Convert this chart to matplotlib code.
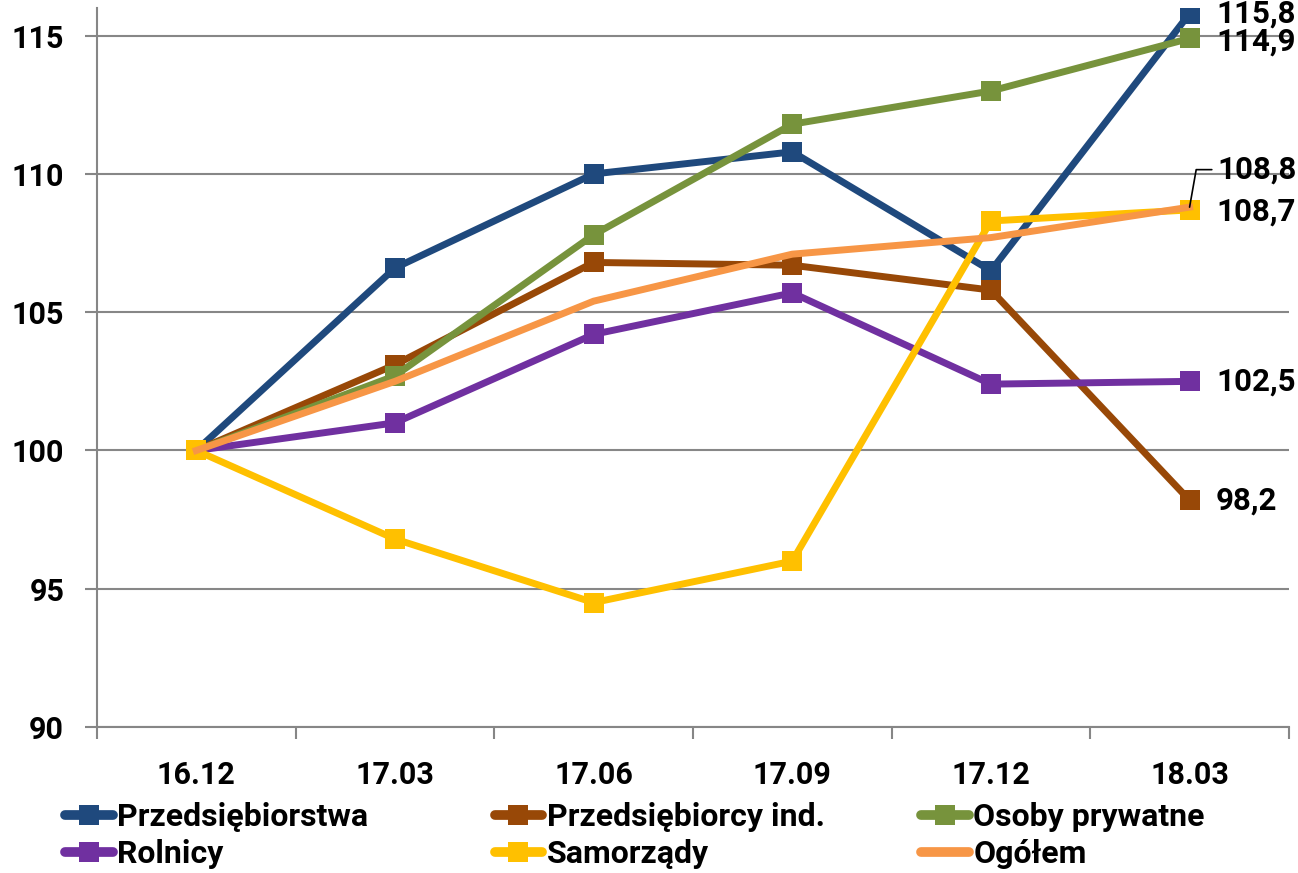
import matplotlib
matplotlib.use('Agg')
import matplotlib.pyplot as plt
from matplotlib.lines import Line2D

plt.rcParams['font.family'] = ['Roboto', 'DejaVu Sans']
plt.rcParams['font.weight'] = 'bold'

# data
quarters = ['16.12', '17.03', '17.06', '17.09', '17.12', '18.03']
series_names = ['Przedsiębiorstwa', 'Przedsiębiorcy ind.', 'Osoby prywatne',
                'Rolnicy', 'Samorządy', 'Ogółem']
przedsiebiorstwa = [100, 106.6, 110.0, 110.8, 106.5, 115.8]
przedsiebiorcy = [100, 103.1, 106.8, 106.7, 105.8, 98.2]
osoby_prywatne = [100, 102.7, 107.8, 111.8, 113.0, 114.9]
rolnicy = [100, 101.0, 104.2, 105.7, 102.4, 102.5]
samorzady = [100, 96.8, 94.5, 96.0, 108.3, 108.7]
ogolem = [100, 102.5, 105.4, 107.1, 107.7, 108.8]
end_labels = ['115,8', '98,2', '114,9', '102,5', '108,7', '108,8']

colors = ['#1F497D', '#984807', '#77933C', '#7030A0', '#FFC000', '#F79646']
all_series = [przedsiebiorstwa, przedsiebiorcy, osoby_prywatne, rolnicy, samorzady, ogolem]
has_marker = [True, True, True, True, True, False]

FS = 22

fig = plt.figure(figsize=(12.98, 8.73), dpi=100)
ax = fig.add_axes([0.0747, 0.1672, 0.9183, 0.8236])

x = list(range(len(quarters)))
for name, vals, c, m in zip(series_names, all_series, colors, has_marker):
    ax.plot(x, vals, color=c, lw=5, marker='s' if m else None,
            markersize=14, markeredgewidth=0, label=name, zorder=3)

# end-of-line value labels
offsets = [(19, 0), (19, 0), (19, -2), (19, 0), (19, -1.5), (20, 27)]
for vals, lab, off in zip(all_series, end_labels, offsets):
    kw = dict(xy=(x[-1], vals[-1]), xytext=off, textcoords='offset points',
              va='center', ha='left', fontsize=FS + 0.5, fontweight='bold',
              annotation_clip=False, zorder=5)
    if off[1] > 20:
        kw['arrowprops'] = dict(arrowstyle='-', color='black', lw=1.2,
                                shrinkA=2, shrinkB=0,
                                connectionstyle='angle,angleA=0,angleB=80,rad=0')
    ax.annotate(lab, **kw)

ax.set_xlim(-0.5, len(quarters) - 0.5)
ax.set_ylim(90, 116)
ax.set_yticks([90, 95, 100, 105, 110, 115])
ax.set_xticks(x)
ax.set_xticklabels(quarters)
ax.set_xticks([i - 0.5 for i in range(len(quarters) + 1)], minor=True)
ax.tick_params(axis='x', which='major', length=0, pad=24, labelsize=FS)
ax.tick_params(axis='x', which='minor', length=8.6, width=1.5, color='#868686', direction='out')
ax.tick_params(axis='y', length=8.6, width=1.5, color='#868686', labelsize=FS, pad=15)
for lbl in ax.get_xticklabels() + ax.get_yticklabels():
    lbl.set_fontweight('bold')

ax.grid(axis='y', color='#878787', lw=1.5, zorder=0)
ax.spines['top'].set_visible(False)
ax.spines['right'].set_visible(False)
for s in ['left', 'bottom']:
    ax.spines[s].set_color('#868686')
    ax.spines[s].set_linewidth(1.5)

# legend: three columns placed like the original
col_x = [0.050, 0.381, 0.7096]
col_pairs = [(0, 3), (1, 4), (2, 5)]
for cx, (a, b) in zip(col_x, col_pairs):
    hs = []
    for i in (a, b):
        hs.append(Line2D([], [], color=colors[i], lw=7, solid_capstyle='round',
                         marker='s' if has_marker[i] else None,
                         markersize=14, markeredgewidth=0, label=series_names[i]))
    leg = fig.legend(handles=hs, loc='upper left', bbox_to_anchor=(cx, 0.081),
                     frameon=False, fontsize=FS + 1, handlelength=1.5, handletextpad=0.13,
                     borderpad=0, borderaxespad=0, labelspacing=0.22)
    for t in leg.get_texts():
        t.set_fontweight('bold')

fig.savefig('out.png', dpi=100)
